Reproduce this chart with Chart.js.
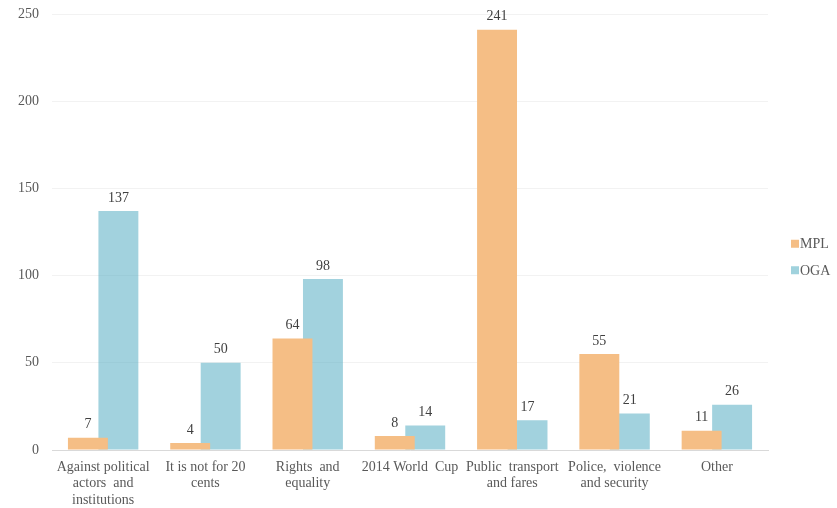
<!DOCTYPE html>
<html>
<head>
<meta charset="utf-8">
<script src="https://cdn.jsdelivr.net/npm/chart.js@4/dist/chart.umd.min.js"></script>
<style>
html,body{margin:0;padding:0;background:#fff;}
#wrap{width:837px;height:508px;}
</style>
</head>
<body>
<div id="wrap"><canvas id="c"></canvas></div>
<script>
const categories = [
  ["Against political", "actors  and", "institutions"],
  ["It is not for 20", "cents"],
  ["Rights  and", "equality"],
  "2014 World  Cup",
  ["Public  transport", "and fares"],
  ["Police,  violence", "and security"],
  "Other"
];
const seriesNames = ["MPL", "OGA"];
const mplValues = [7, 4, 64, 8, 241, 55, 11];
const ogaValues = [137, 50, 98, 14, 17, 21, 26];
const yTicks = [0, 50, 100, 150, 200, 250];

const FONT = "'Liberation Serif', 'Times New Roman', serif";
const legendSwatch = ['rgb(245,190,133)', 'rgb(160,210,221)'];

const valueLabels = {
  id: 'valueLabels',
  afterDatasetsDraw(chart) {
    const ctx = chart.ctx;
    ctx.save();
    ctx.font = '14px ' + FONT;
    ctx.fillStyle = '#404040';
    ctx.textAlign = 'center';
    ctx.textBaseline = 'bottom';
    chart.data.datasets.forEach((ds, i) => {
      const meta = chart.getDatasetMeta(i);
      meta.data.forEach((el, j) => {
        ctx.fillText(String(ds.data[j]), el.x, el.y - 6);
      });
    });
    ctx.restore();
  }
};

const sideLegend = {
  id: 'sideLegend',
  afterDraw(chart) {
    const ctx = chart.ctx;
    ctx.save();
    ctx.font = '14px ' + FONT;
    ctx.textAlign = 'left';
    ctx.textBaseline = 'middle';
    const x0 = chart.chartArea.right + 23;
    const yc = chart.height / 2 + 3;
    const gap = 26.5;
    chart.data.datasets.forEach((ds, i) => {
      const y = yc - gap / 2 + i * gap;
      ctx.fillStyle = legendSwatch[i];
      ctx.fillRect(x0, y - 4, 8, 8);
      ctx.fillStyle = '#595959';
      ctx.fillText(ds.label, x0 + 9, y + 1);
    });
    ctx.restore();
  }
};

new Chart(document.getElementById('c'), {
  type: 'bar',
  data: {
    labels: categories,
    datasets: [
      {
        label: seriesNames[0],
        data: mplValues,
        backgroundColor: 'rgb(245,190,133)',
        categoryPercentage: 0.596,
        barPercentage: 1.31
      },
      {
        label: seriesNames[1],
        data: ogaValues,
        backgroundColor: 'rgba(86,173,195,0.55)',
        categoryPercentage: 0.596,
        barPercentage: 1.31
      }
    ]
  },
  options: {
    responsive: true,
    maintainAspectRatio: false,
    animation: false,
    layout: { padding: { top: 0, right: 69, left: 0, bottom: 0 } },
    plugins: {
      legend: { display: false },
      tooltip: { enabled: false }
    },
    scales: {
      x: {
        afterFit(scale) { scale.height = 58; },
        grid: { display: false, drawTicks: false },
        border: { display: true, color: '#d9d9d9', width: 1 },
        ticks: {
          color: '#595959',
          padding: 9,
          maxRotation: 0,
          autoSkip: false,
          font: { family: FONT, size: 14, lineHeight: 1.18 }
        }
      },
      y: {
        min: 0,
        max: 250,
        afterFit(scale) { scale.width = 52; scale.paddingTop = 14; scale.paddingBottom = 8; },
        afterBuildTicks(scale) { scale.ticks = yTicks.map(v => ({ value: v })); },
        grid: { color: '#f2f2f2', drawTicks: false },
        border: { display: false },
        ticks: {
          color: '#595959',
          padding: 13,
          font: { family: FONT, size: 14 }
        }
      }
    }
  },
  plugins: [valueLabels, sideLegend]
});
</script>
</body>
</html>
